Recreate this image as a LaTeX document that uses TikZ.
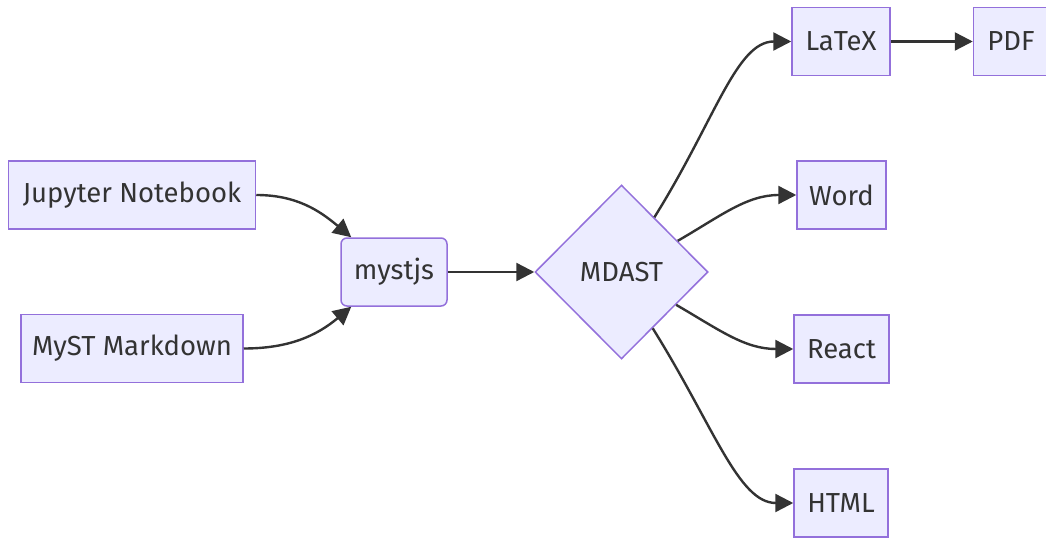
\documentclass[tikz,border=0pt]{standalone}
\usepackage{fontspec}
\setmainfont{Fira Sans}
\usetikzlibrary{shapes.geometric,arrows.meta}
\definecolor{nodefill}{HTML}{ECECFF}
\definecolor{nodeline}{HTML}{9370DB}
\definecolor{ink}{HTML}{333333}
\begin{document}
\begin{tikzpicture}[x=1pt,y=1pt,
  box/.style={draw=nodeline,fill=nodefill,line width=1.5pt,text=ink,
    font=\fontsize{27.5}{32}\selectfont,minimum height=68pt,inner sep=0pt},
  flow/.style={draw=ink,line width=2.4pt,-{Triangle[length=18pt,width=18pt]}},
]
\useasboundingbox (0,0) rectangle (1046,-540);
\node[box,minimum width=247pt] (jn) at (132,-195) {Jupyter Notebook};
\node[box,minimum width=222pt] (mm) at (132,-348.5) {MyST Markdown};
\node[box,minimum width=106pt,rounded corners=6pt] (ms) at (394,-272) {mystjs};
\node[diamond,draw=nodeline,fill=nodefill,line width=1.5pt,text=ink,
  font=\fontsize{27.5}{32}\selectfont,inner sep=0pt,minimum width=173pt,
  minimum height=174pt] (md) at (621.5,-272) {MDAST};
\node[box,minimum width=98pt] (lx) at (841,-41.5) {LaTeX};
\node[box,minimum width=75pt] (pdf) at (1011,-41.5) {PDF};
\node[box,minimum width=89pt] (wd) at (841.5,-195) {Word};
\node[box,minimum width=95pt] (rc) at (841.5,-349) {React};
\node[box,minimum width=94pt] (ht) at (841,-503) {HTML};
\draw[flow] (jn.east) to[out=0,in=140] ([xshift=11pt]ms.north west);
\draw[flow] (mm.east) to[out=0,in=220] ([xshift=11pt]ms.south west);
\draw[flow] (ms.east) -- (md.west);
\draw[flow] (md.59) .. controls +(58:115) and +(180:55) .. (lx.west);
\draw[flow] (md.29) to[out=30,in=180] (wd.west);
\draw[flow] (md.-31) to[out=-30,in=180] (rc.west);
\draw[flow] (md.-61) .. controls +(-58:115) and +(180:55) .. (ht.west);
\draw[flow] (lx.east) -- (pdf.west);
\end{tikzpicture}
\end{document}
